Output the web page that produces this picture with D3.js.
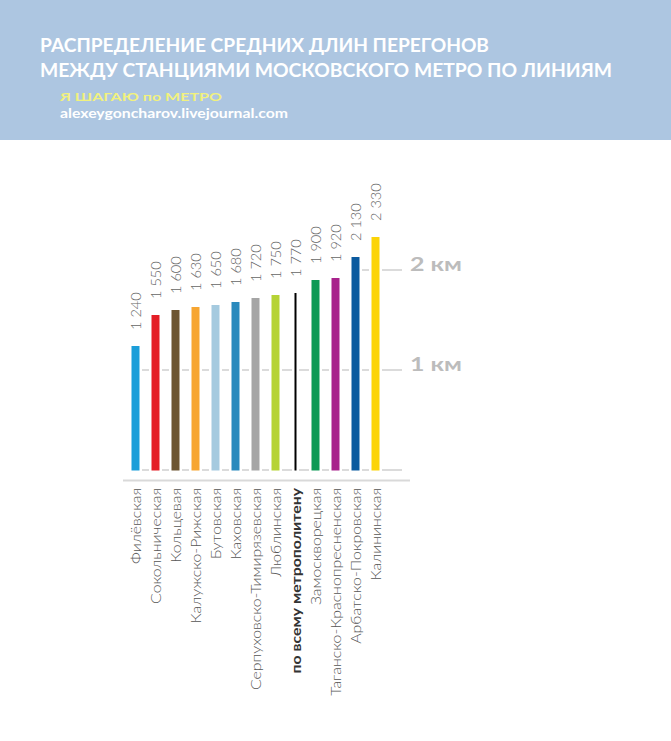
<!DOCTYPE html>
<html><head><meta charset="utf-8">
<script src="https://cdn.jsdelivr.net/npm/d3@7"></script>
<style>
html,body{margin:0;padding:0;background:#fff;}
svg{display:block;}
</style></head>
<body>
<script>
const titleLines = ["РАСПРЕДЕЛЕНИЕ СРЕДНИХ ДЛИН ПЕРЕГОНОВ", "МЕЖДУ СТАНЦИЯМИ МОСКОВСКОГО МЕТРО ПО ЛИНИЯМ"];
const subtitle = "Я ШАГАЮ по МЕТРО";
const siteText = "alexeygoncharov.livejournal.com";
const categories = ["Филёвская","Сокольническая","Кольцевая","Калужско-Рижская","Бутовская","Каховская","Серпуховско-Тимирязевская","Люблинская","по всему метрополитену","Замоскворецкая","Таганско-Краснопресненская","Арбатско-Покровская","Калининская"];
const values = [1240,1550,1600,1630,1650,1680,1720,1750,1770,1900,1920,2130,2330];
const colors = ["#1b9ed9","#e41e26","#6d5531","#f7a632","#a5cadf","#2a8abd","#a5a5a5","#b6d335","#000000","#0e9a56","#a8228c","#0b5a9f","#fcd408"];
const totalIndex = 8;
const tickValues = [1000, 2000];
const tickLabels = ["1 км", "2 км"];

const W = 671, H = 741;
const svg = d3.select("body").append("svg").attr("width", W).attr("height", H);

// header
svg.append("rect").attr("x",0).attr("y",0).attr("width",W).attr("height",140).attr("fill","#adc6e1");
const hf = "'Lato','Open Sans',sans-serif";
svg.selectAll("text.title").data(titleLines).enter().append("text")
  .attr("class","title")
  .attr("x",40).attr("y",(d,i)=>52+i*25)
  .attr("font-family",hf).attr("font-weight","bold").attr("font-size",19)
  .attr("fill","#ffffff")
  .attr("textLength",(d,i)=> i===0?449:572).attr("lengthAdjust","spacingAndGlyphs")
  .text(d=>d);
svg.append("text").attr("x",60).attr("y",101)
  .attr("font-family",hf).attr("font-weight","bold").attr("font-size",12)
  .attr("fill","#f1f17e").attr("textLength",162).attr("lengthAdjust","spacingAndGlyphs")
  .text(subtitle);
svg.append("text").attr("x",60).attr("y",118)
  .attr("font-family",hf).attr("font-weight","bold").attr("font-size",13.5)
  .attr("fill","#ffffff").attr("textLength",228).attr("lengthAdjust","spacingAndGlyphs")
  .text(siteText);

// scales
const x = d3.scaleBand().domain(categories).range([125.5, 385.5]).padding(0);
const y = d3.scaleLinear().domain([0, 2000]).range([470, 270]);
const cx = c => x(c) + x.bandwidth()/2;
const gridRight = 402;

// gridlines: from first bar exceeding the level to the right
const levels = [0].concat(tickValues);
svg.selectAll("line.grid").data(levels).enter().append("line")
  .attr("class","grid")
  .attr("x1", lv => { const i = values.findIndex(v => v > lv); return cx(categories[i]); })
  .attr("x2", gridRight)
  .attr("y1", lv => y(lv)).attr("y2", lv => y(lv))
  .attr("stroke","#cfcfcf").attr("stroke-width",1.6);

// bottom axis line
svg.append("line").attr("x1",123).attr("x2",410).attr("y1",480.5).attr("y2",480.5)
  .attr("stroke","#d9d9d9").attr("stroke-width",2);

// bars with white halo
const bw = (d,i) => i===totalIndex ? 2 : 8;
const g = svg.append("g");
g.selectAll("rect.halo").data(values).enter().append("rect")
  .attr("x",(d,i)=>cx(categories[i]) - bw(d,i)/2 - 2.5)
  .attr("width",(d,i)=>bw(d,i)+5)
  .attr("y",d=>y(d)).attr("height",d=>y(0)-y(d)+1)
  .attr("fill","#fff");
g.selectAll("rect.bar").data(values).enter().append("rect")
  .attr("class","bar")
  .attr("x",(d,i)=>cx(categories[i]) - bw(d,i)/2)
  .attr("width",(d,i)=>bw(d,i))
  .attr("y",d=>y(d)).attr("height",d=>y(0)-y(d)+0.5)
  .attr("fill",(d,i)=>colors[i]);

// value labels
const loc = d3.formatLocale({decimal:",", thousands:" ", grouping:[3], currency:["",""]});
const fmt = loc.format(",d");
const lf = "'Lato','Noto Sans',sans-serif";
const vals = svg.selectAll("text.val").data(values).enter().append("text")
  .attr("transform",(d,i)=>`translate(${cx(categories[i])+0.5},${y(d)-16}) rotate(-90)`)
  .attr("dy","0.36em")
  .attr("font-family",lf).attr("font-weight",300).attr("font-size",13.5).attr("fill","#666")
  .attr("text-anchor","start")
  .text(d=>fmt(d));
vals.each(function(){ const L=this.getComputedTextLength(); d3.select(this).attr("textLength", L*1.08).attr("lengthAdjust","spacingAndGlyphs"); });

// category labels
const cats = svg.selectAll("text.cat").data(categories).enter().append("text")
  .attr("transform",c=>`translate(${cx(c)+0.5},488) rotate(-90)`)
  .attr("dy","0.36em")
  .attr("font-family",lf).attr("font-size",14)
  .attr("font-weight",(c,i)=> i===totalIndex ? "bold" : 300)
  .attr("fill",(c,i)=> i===totalIndex ? "#333" : "#555")
  .attr("text-anchor","end")
  .text(c=>c);
// widen to match the reference's wide geometric typeface
const refNode = cats.filter((c,i)=>i===6).node();
const k = 202 / refNode.getComputedTextLength();
cats.each(function(){ const L=this.getComputedTextLength(); d3.select(this).attr("textLength", L*k).attr("lengthAdjust","spacingAndGlyphs"); });

// km labels
svg.selectAll("text.km").data(tickValues).enter().append("text")
  .attr("x",410).attr("y",d=>y(d)+1)
  .attr("font-family",hf).attr("font-weight","bold").attr("font-size",19)
  .attr("fill","#bcbcbc").attr("textLength",52).attr("lengthAdjust","spacingAndGlyphs")
  .text((d,i)=>tickLabels[i]);
</script>
</body></html>
